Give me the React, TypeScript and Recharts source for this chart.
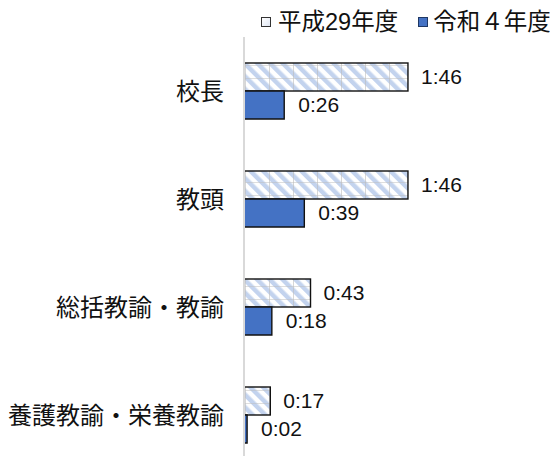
import { BarChart, Bar, XAxis, YAxis, LabelList } from 'recharts';

const categories = ['校長', '教頭', '総括教諭・教諭', '養護教諭・栄養教諭'];
const h29Minutes = [106, 106, 43, 17];
const r4Minutes = [26, 39, 18, 2];
const seriesNames = ['平成29年度', '令和４年度'];

const data = categories.map((name, i) => ({
    name,
    h29: h29Minutes[i],
    r4: r4Minutes[i],
}));

const FONT = "'Liberation Sans', 'Noto Sans CJK JP', sans-serif";

const toHm = (m: number) => `${Math.floor(m / 60)}:${String(m % 60).padStart(2, '0')}`;

// hatched bar: white base, light blue diagonal stripes, thin grey grid, dark border
const HatchedBar = (props: any) => {
    const { x, y, width, height } = props;
    if (!width || width <= 0) return null;
    return (
        <g>
            <rect x={x} y={y} width={width} height={height} fill="#fff" />
            <rect x={x} y={y} width={width} height={height} fill="url(#stripes)" />
            <rect x={x} y={y} width={width} height={height} fill="url(#grid)" />
            <rect x={x} y={y} width={width} height={height} fill="none" stroke="#111" strokeWidth={1.4} />
        </g>
    );
};

const Legend2 = () => (
    <div style={{
        position: 'absolute', top: 7, left: 261, display: 'flex', alignItems: 'center',
        fontFamily: FONT, fontSize: 23.5, color: '#111', lineHeight: '30px', whiteSpace: 'nowrap',
    }}>
        <span style={{ display: 'inline-block', width: 8, height: 8, border: '1px solid #333', background: 'linear-gradient(135deg,#fff,#dfe6f3)', marginRight: 7 }} />
        <span style={{ marginRight: 20 }}>{seriesNames[0]}</span>
        <span style={{ display: 'inline-block', width: 8, height: 8, border: '1px solid #1f3864', background: '#4472c4', marginRight: 5 }} />
        <span>{seriesNames[1]}</span>
    </div>
);

export default function App() {
    return (
        <div style={{ position: 'relative', width: 558, height: 464, margin: -8, background: '#fff', overflow: 'hidden' }}>
            <BarChart
                width={558}
                height={464}
                data={data}
                layout="vertical"
                margin={{ top: 37, right: 0, bottom: -5, left: 0 }}
                barGap={0}
                barSize={28}
            >
                <defs>
                    <pattern id="stripes" patternUnits="userSpaceOnUse" width={9} height={9} patternTransform="rotate(-45)">
                        <rect x={0} y={0} width={4.5} height={9} fill="#c3d3ee" />
                    </pattern>
                    <pattern id="grid" patternUnits="userSpaceOnUse" width={24} height={13} patternTransform="translate(245 65)">
                        <path d="M0 0 V13 M0 0 H24" stroke="#bdbdbd" strokeWidth={1.2} fill="none" />
                    </pattern>
                </defs>
                <XAxis type="number" domain={[0, 203]} hide />
                <YAxis
                    type="category"
                    dataKey="name"
                    width={244}
                    axisLine={{ stroke: '#d9d9d9', strokeWidth: 2 }}
                    tickLine={false}
                    tickMargin={14}
                    tick={{ fill: '#111', fontSize: 24, fontFamily: FONT }}
                />
                <Bar dataKey="h29" name={seriesNames[0]} shape={HatchedBar} isAnimationActive={false}>
                    <LabelList dataKey="h29" position="right" offset={13} formatter={(v: any) => toHm(Number(v))}
                        style={{ fill: '#111', fontSize: 21, fontFamily: FONT }} />
                </Bar>
                <Bar dataKey="r4" name={seriesNames[1]} fill="#4472c4" stroke="#111" strokeWidth={1.4} isAnimationActive={false}>
                    <LabelList dataKey="r4" position="right" offset={14} formatter={(v: any) => toHm(Number(v))}
                        style={{ fill: '#111', fontSize: 21, fontFamily: FONT }} />
                </Bar>
            </BarChart>
            <Legend2 />
        </div>
    );
}
